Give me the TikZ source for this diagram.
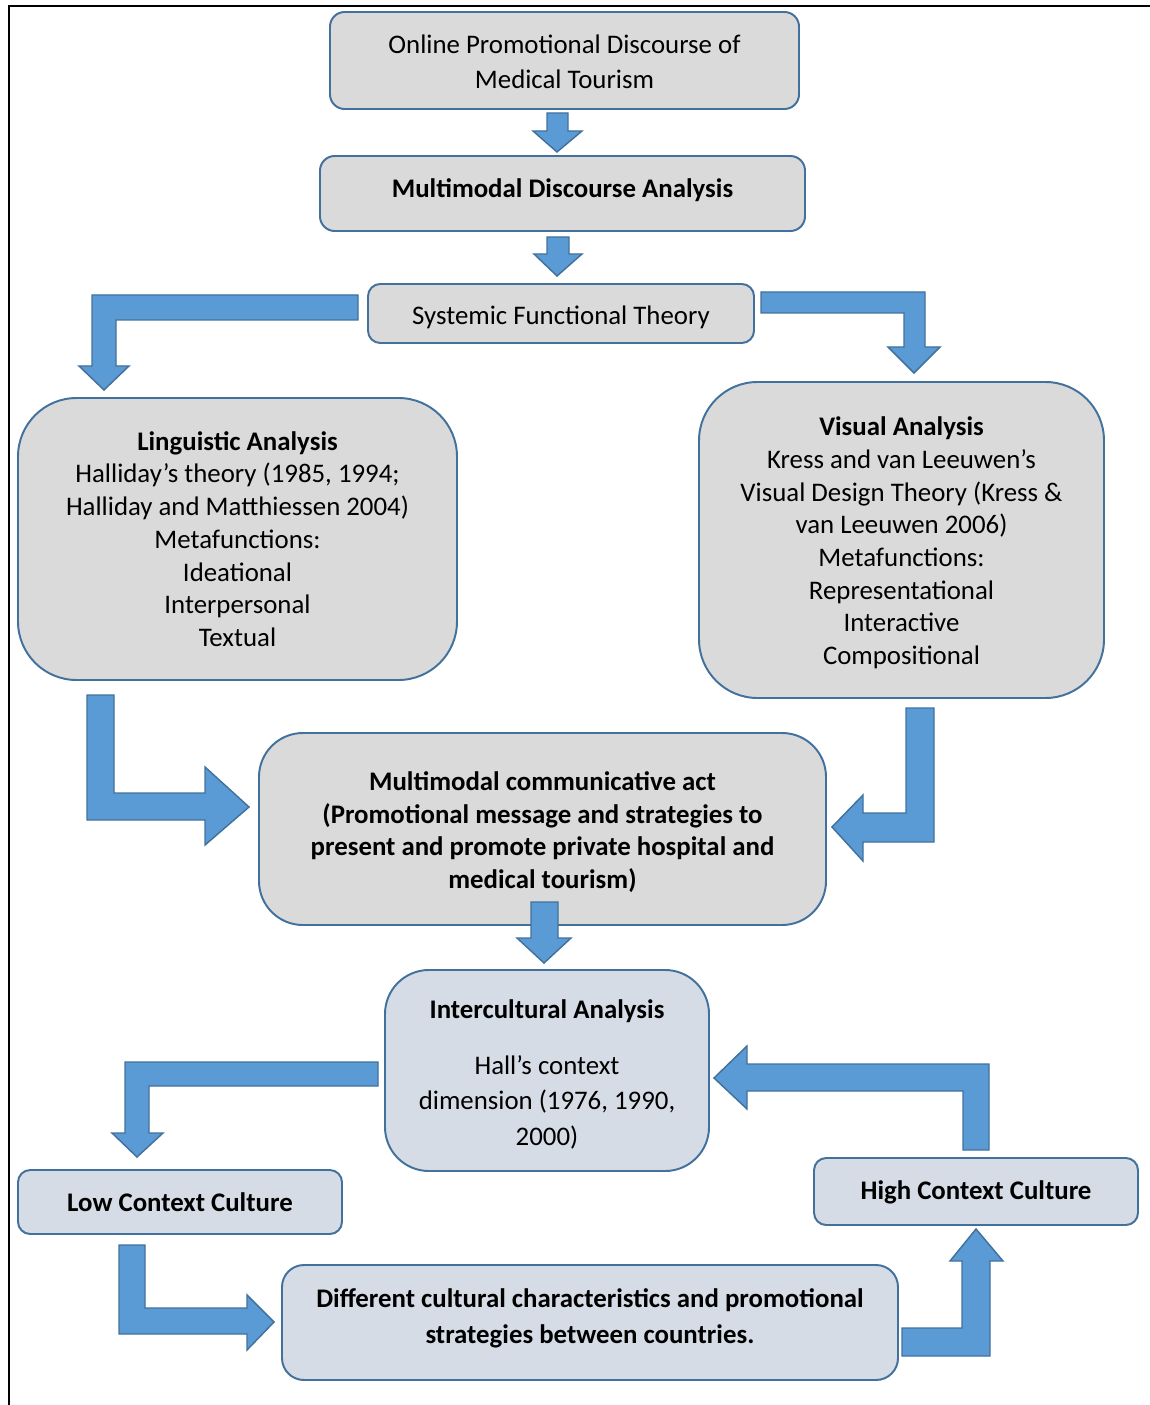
\documentclass[tikz,border=0pt]{standalone}
\usepackage{fontspec}
\setmainfont{Carlito}
\usetikzlibrary{fit,calc}
\definecolor{boxgray}{HTML}{DADADA}
\definecolor{boxblue}{HTML}{D6DCE5}
\definecolor{edgeblue}{HTML}{41719C}
\definecolor{arrowfill}{HTML}{5B9BD5}
\begin{document}
\begin{tikzpicture}[x=0.41pt,y=-0.41pt,
  box/.style={draw=edgeblue, line width=0.8pt, inner sep=0pt},
  gbox/.style={box, fill=boxgray},
  bbox/.style={box, fill=boxblue},
  txt/.style={inner sep=0pt, align=center, font=\fontsize{11pt}{13.4pt}\selectfont},
  blockarrow/.style={draw=edgeblue, fill=arrowfill, line width=0.6pt, line join=miter}]
\useasboundingbox (0,0) rectangle (1150,1405);
% frame
\draw[line width=0.85pt] (1152,6) -- (9,6) -- (9,1407);

% boxes
\node[gbox, rounded corners=6pt, fit={(330,12) (799,109)}] (n1) {};
\node[gbox, rounded corners=6pt, fit={(320,156) (805,231)}] (n2) {};
\node[gbox, rounded corners=5pt, fit={(368,284) (754,343)}] (n3) {};
\node[gbox, rounded corners=24pt, fit={(18,398) (457,680)}] (n4) {};
\node[gbox, rounded corners=24pt, fit={(699,382) (1104,698)}] (n5) {};
\node[gbox, rounded corners=18pt, fit={(259,733) (826,925)}] (n6) {};
\node[bbox, rounded corners=18pt, fit={(385,970) (709,1171)}] (n7) {};
\node[bbox, rounded corners=5pt, fit={(18,1170) (342,1234)}] (n8) {};
\node[bbox, rounded corners=5pt, fit={(814,1158) (1138,1225)}] (n9) {};
\node[bbox, rounded corners=9pt, fit={(282,1265) (898,1380)}] (n10) {};

% texts
\node[txt, font=\fontsize{11pt}{14.4pt}\selectfont] (t1) at ($(n1.center)+(0,1)$)
  {Online Promotional Discourse of\\Medical Tourism};
\node[txt] (t2) at ($(n2.center)+(0,-3)$) {\textbf{Multimodal Discourse Analysis}};
\node[txt] (t3) at ($(n3.center)+(0,4)$) {Systemic Functional Theory};
\node[txt] (t4) at ($(n4.center)+(0,0)$)
  {\textbf{Linguistic Analysis}\\Halliday’s theory (1985, 1994;\\Halliday and Matthiessen 2004)\\Metafunctions:\\Ideational\\Interpersonal\\Textual};
\node[txt] (t5) at ($(n5.center)+(0,3)$)
  {\textbf{Visual Analysis}\\Kress and van Leeuwen’s\\Visual Design Theory (Kress \&\\van Leeuwen 2006)\\Metafunctions:\\Representational\\Interactive\\Compositional};
\node[txt] (t6) at ($(n6.center)+(0,3)$)
  {\textbf{Multimodal communicative act}\\\textbf{(Promotional message and strategies to}\\\textbf{present and promote private hospital and}\\\textbf{medical tourism)}};
\node[txt, font=\fontsize{11pt}{14.6pt}\selectfont] (t7) at ($(n7.center)+(0,4)$)
  {\textbf{Intercultural Analysis}\\[8pt]Hall’s context\\dimension (1976, 1990,\\2000)};
\node[txt] (t8) at ($(n8.center)+(0,0)$) {\textbf{Low Context Culture}};
\node[txt] (t9) at ($(n9.center)+(0,1)$) {\textbf{High Context Culture}};
\node[txt, font=\fontsize{11pt}{14.8pt}\selectfont] (t10) at ($(n10.center)+(0,-4)$)
  {\textbf{Different cultural characteristics and promotional}\\\textbf{strategies between countries.}};

% block arrows
% n1 -> n2
\draw[blockarrow] (547,113) -- (568,113) -- (568,131) -- (582,131) -- (557,152) -- (533,131) -- (547,131) -- cycle;
% n2 -> n3
\draw[blockarrow] (547,237) -- (569,237) -- (569,254) -- (582,254) -- (557,276) -- (534,254) -- (547,254) -- cycle;
% n3 -> n4
\draw[blockarrow] (358,295) -- (358,320) -- (116,320) -- (116,366) -- (129,366) -- (104,390) -- (79,366) -- (92,366) -- (92,295) -- cycle;
% n3 -> n5
\draw[blockarrow] (761,292) -- (925,292) -- (925,347) -- (940,347) -- (914,373) -- (888,347) -- (904,347) -- (904,313) -- (761,313) -- cycle;
% n4 -> n6
\draw[blockarrow] (87,695) -- (114,695) -- (114,793) -- (205,793) -- (205,767) -- (249,807) -- (205,845) -- (205,820) -- (87,820) -- cycle;
% n5 -> n6
\draw[blockarrow] (906,708) -- (934,708) -- (934,842) -- (863,842) -- (863,861) -- (832,827) -- (863,795) -- (863,813) -- (906,813) -- cycle;
% n6 -> n7
\draw[blockarrow] (531,902) -- (558,902) -- (558,938) -- (571,938) -- (544,963) -- (517,938) -- (531,938) -- cycle;
% n7 -> n8
\draw[blockarrow] (378,1062) -- (378,1086) -- (149,1086) -- (149,1133) -- (163,1133) -- (137,1157) -- (112,1133) -- (125,1133) -- (125,1062) -- cycle;
% n9 -> n7
\draw[blockarrow] (989,1150) -- (963,1150) -- (963,1091) -- (747,1091) -- (747,1109) -- (714,1078) -- (747,1046) -- (747,1064) -- (989,1064) -- cycle;
% n10 -> n9
\draw[blockarrow] (902,1328) -- (962,1328) -- (962,1261) -- (950,1261) -- (976,1229) -- (1003,1261) -- (990,1261) -- (990,1356) -- (902,1356) -- cycle;
% n8 -> n10
\draw[blockarrow] (119,1245) -- (145,1245) -- (145,1308) -- (247,1308) -- (247,1295) -- (274,1322) -- (247,1350) -- (247,1334) -- (119,1334) -- cycle;
\end{tikzpicture}
\end{document}
